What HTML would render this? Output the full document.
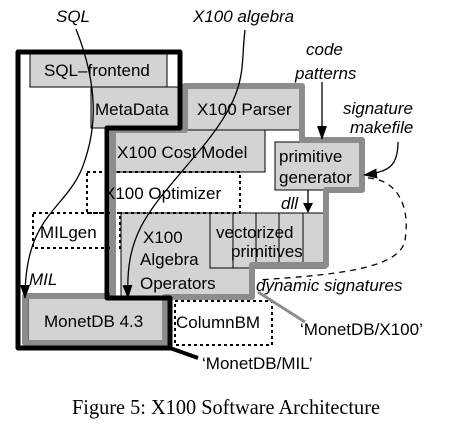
<!DOCTYPE html>
<html><head><style>html,body{margin:0;padding:0;background:#fff}svg{display:block}</style></head>
<body>
<svg width="454" height="427" viewBox="0 0 454 427" xmlns="http://www.w3.org/2000/svg" font-family="Liberation Sans, sans-serif" font-size="17">
<defs><marker id="ah" markerWidth="10" markerHeight="10" refX="9" refY="5" orient="auto" markerUnits="userSpaceOnUse"><path d="M0,0 L10,5 L0,10 z" fill="#000"/></marker>
<marker id="ah2" markerWidth="14" markerHeight="10" refX="13" refY="5" orient="auto" markerUnits="userSpaceOnUse"><path d="M0,0 L14,5 L0,10 z" fill="#000"/></marker></defs>
<g stroke="#000" stroke-width="1" fill="#d3d3d3">
<rect x="30" y="52" width="137" height="35"/>
<rect x="91" y="87" width="89" height="41"/>
<rect x="185" y="86" width="117" height="44"/>
<rect x="113" y="130" width="152" height="42"/>
<rect x="275" y="142" width="87" height="48"/>
<path d="M121,213 H326 V266 H252 V297 H121 Z"/>
<rect x="28" y="298" width="135" height="43"/>
</g>
<g stroke="#000" stroke-width="1" fill="none">
<rect x="210" y="213" width="116" height="55"/>
<line x1="233" y1="213" x2="233" y2="268"/><line x1="256" y1="213" x2="256" y2="268"/><line x1="279" y1="213" x2="279" y2="268"/><line x1="303" y1="213" x2="303" y2="268"/>
</g>
<g stroke="#000" stroke-width="2" stroke-dasharray="3,3" fill="none">
<rect x="87" y="172" width="153" height="41"/>
<rect x="33" y="213" width="87" height="35"/>
<rect x="175" y="301" width="97" height="44"/>
</g>
<path d="M113,296 V130 H185 V86 H302 V140 H362 V190 H326 V265 H252 V297 H165 V343 H25 V296 Z" fill="none" stroke="#8c8c8c" stroke-width="6" stroke-linejoin="round"/>
<path d="M18,348 V52 H180 V128 H107 V298 H170 V348 Z" fill="none" stroke="#000" stroke-width="5" stroke-linejoin="round"/>
<line x1="258" y1="292" x2="305" y2="322" stroke="#8c8c8c" stroke-width="3"/>
<line x1="170" y1="348" x2="198" y2="358" stroke="#000" stroke-width="4"/>
<g fill="none" stroke="#000" stroke-width="1.3">
<path d="M76,29 C100,90 95,130 85,160 C70,210 25,210 25,298" marker-end="url(#ah2)"/>
<path d="M245,30 C240,70 250,90 200,150 C150,210 125,230 128,298" marker-end="url(#ah2)"/>
<line x1="322" y1="82" x2="322" y2="139" marker-end="url(#ah2)"/>
<path d="M398,142 C398,165 390,172 364,175" marker-end="url(#ah2)"/>
<line x1="308" y1="190" x2="308" y2="212" marker-end="url(#ah)"/>
<path d="M368,178 C400,180 410,210 405,240 C400,270 330,275 258,280" stroke-dasharray="6,5"/>
</g>
<g font-style="italic">
<text x="56" y="22">SQL</text>
<text x="193" y="22">X100 algebra</text>
<text x="306" y="55">code</text>
<text x="295" y="79">patterns</text>
<text x="343" y="114">signature</text>
<text x="350" y="133">makefile</text>
<text x="281" y="209">dll</text>
<text x="29" y="285">MIL</text>
<text x="256" y="291">dynamic signatures</text>
</g>
<text x="44" y="76">SQL–frontend</text>
<text x="95" y="115">MetaData</text>
<text x="197" y="115">X100 Parser</text>
<text x="117" y="158">X100 Cost Model</text>
<text x="279" y="162">primitive</text>
<text x="279" y="183">generator</text>
<text x="104" y="199">X100 Optimizer</text>
<text x="40" y="238">MILgen</text>
<text x="143" y="243">X100</text>
<text x="140" y="265">Algebra</text>
<text x="140" y="289">Operators</text>
<text x="216" y="238">vectorized</text>
<text x="231" y="257">primitives</text>
<text x="44" y="327">MonetDB 4.3</text>
<text x="176" y="328">ColumnBM</text>
<text x="300" y="335">‘MonetDB/X100’</text>
<text x="202" y="369">‘MonetDB/MIL’</text>
<text x="72" y="414" font-family="Liberation Serif, serif" font-size="21" textLength="308" lengthAdjust="spacingAndGlyphs">Figure 5: X100 Software Architecture</text>
</svg>
</body></html>
